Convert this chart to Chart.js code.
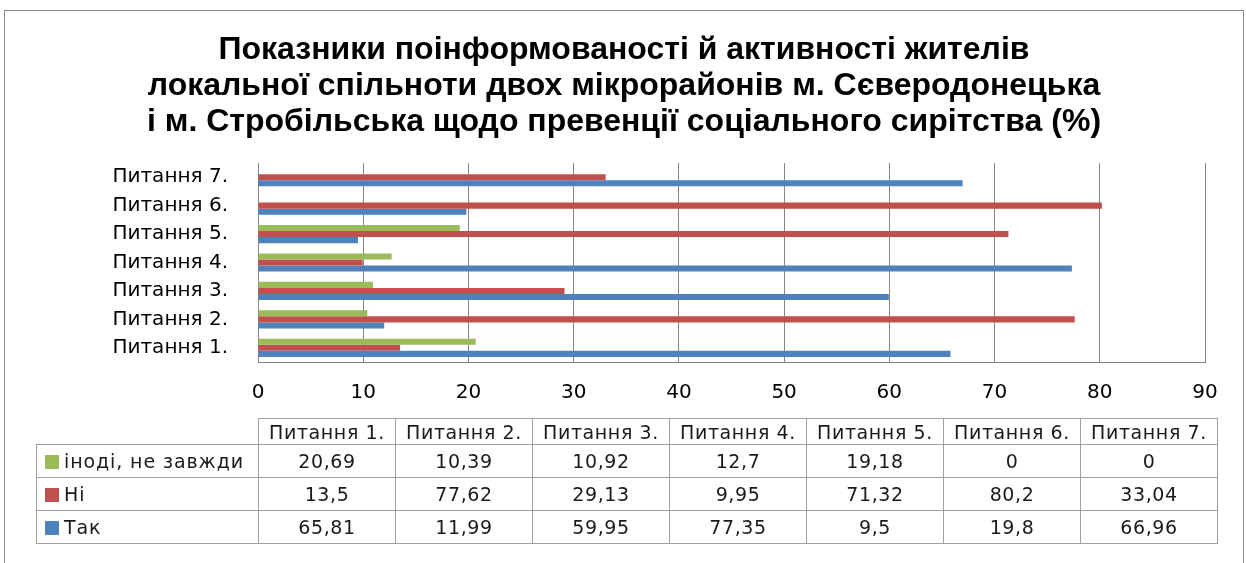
<!DOCTYPE html>
<html>
<head>
<meta charset="utf-8">
<script src="https://cdn.jsdelivr.net/npm/chart.js@4.4.1/dist/chart.umd.min.js"></script>
<style>
  html, body { margin: 0; padding: 0; background: #fff; }
  #wrap { position: relative; width: 1246px; height: 563px; overflow: hidden; }
  #chart { position: absolute; left: 0; top: 0; }
  #title {
    position: absolute; left: 0; top: 30px; width: 1248px;
    text-align: center; font-family: "Liberation Sans", sans-serif; font-weight: bold;
    font-size: 32px; line-height: 36px; color: #000; white-space: nowrap;
  }
  #dataTable {
    position: absolute; left: 36px; top: 418px;
    border-collapse: collapse; table-layout: fixed;
    font-family: "DejaVu Sans", sans-serif; font-size: 19px; color: #1a1a1a;
    letter-spacing: 0.6px;
  }
  #dataTable td { border: 1px solid #a0a0a0; padding: 0; text-align: center; white-space: nowrap; overflow: hidden; }
  #dataTable td.empty { border: none; border-right: 1px solid #a0a0a0; border-bottom: 1px solid #a0a0a0; }
  #dataTable tr.head td { height: 25px; }
  #dataTable tr.row td { height: 32px; }
  #dataTable td.name { text-align: left; padding-left: 8px; letter-spacing: 0.9px; }
  .key { display: inline-block; width: 14px; height: 14px; margin-right: 5px; vertical-align: -1px; }
</style>
</head>
<body>
<div id="wrap">
  <canvas id="chart" width="1246" height="563"></canvas>
  <div id="title"></div>
  <table id="dataTable"></table>
</div>
<script>
// --- дані з діаграми ---
const categories = ['Питання 1.', 'Питання 2.', 'Питання 3.', 'Питання 4.', 'Питання 5.', 'Питання 6.', 'Питання 7.'];
const seriesNames = ['іноді, не завжди', 'Ні', 'Так'];
const sometimesValues = [20.69, 10.39, 10.92, 12.7, 19.18, 0, 0];
const noValues = [13.5, 77.62, 29.13, 9.95, 71.32, 80.2, 33.04];
const yesValues = [65.81, 11.99, 59.95, 77.35, 9.5, 19.8, 66.96];
const xMin = 0, xMax = 90, xStep = 10;
const titleLines = [
    'Показники поінформованості й активності жителів',
    'локальної спільноти двох мікрорайонів м. Сєверодонецька',
    'і м. Стробільська щодо превенції соціального сирітства (%)'
];

const colors = ['#9BBB59', '#C0504D', '#4F81BD'];
const seriesValues = [sometimesValues, noValues, yesValues];
const gridColor = '#868686';
const labelFont = { family: 'DejaVu Sans', size: 20 };

// рамка навколо всієї діаграми
const frame = {
    id: 'frame',
    beforeDraw(chart) {
        const ctx = chart.ctx;
        ctx.save();
        ctx.fillStyle = '#fff';
        ctx.fillRect(0, 0, chart.width, chart.height);
        ctx.strokeStyle = '#8c8c8c';
        ctx.lineWidth = 1;
        ctx.strokeRect(4.5, 10.5, 1239, 600);
        ctx.restore();
    }
};

const datasets = seriesNames.map((name, i) => ({
    label: name,
    data: seriesValues[i],
    backgroundColor: colors[i],
    borderWidth: 0,
    barPercentage: 1,
    categoryPercentage: 0.64
}));

new Chart(document.getElementById('chart'), {
    type: 'bar',
    data: { labels: categories, datasets: datasets },
    plugins: [frame],
    options: {
        indexAxis: 'y',
        responsive: false,
        devicePixelRatio: 1,
        animation: false,
        layout: { padding: { left: 0, right: 41, top: 163, bottom: 0 } },
        plugins: {
            legend: { display: false },
            tooltip: { enabled: false },
            title: { display: false }
        },
        scales: {
            x: {
                min: xMin, max: xMax,
                ticks: { stepSize: xStep, color: '#000', font: labelFont, padding: 19 },
                grid: { color: gridColor, drawTicks: false },
                border: { color: gridColor },
                afterFit(scale) { scale.height = 201; }
            },
            y: {
                reverse: true,
                ticks: { color: '#000', font: labelFont, padding: 30 },
                grid: { display: false, drawTicks: false },
                border: { color: gridColor },
                afterFit(scale) { scale.width = 258; }
            }
        }
    }
});

// заголовок
document.getElementById('title').innerHTML = titleLines.join('<br>');

// таблиця даних під діаграмою
const fmt = v => String(v).replace('.', ',');
let html = '<colgroup><col style="width:222px">' + categories.map(() => '<col style="width:137px">').join('') + '</colgroup>';
html += '<tr class="head"><td class="empty"></td>' + categories.map(c => `<td>${c}</td>`).join('') + '</tr>';
seriesNames.forEach((name, i) => {
    html += `<tr class="row"><td class="name"><span class="key" style="background:${colors[i]}"></span>${name}</td>`;
    html += seriesValues[i].map(v => `<td>${fmt(v)}</td>`).join('') + '</tr>';
});
document.getElementById('dataTable').innerHTML = html;
</script>
</body>
</html>
